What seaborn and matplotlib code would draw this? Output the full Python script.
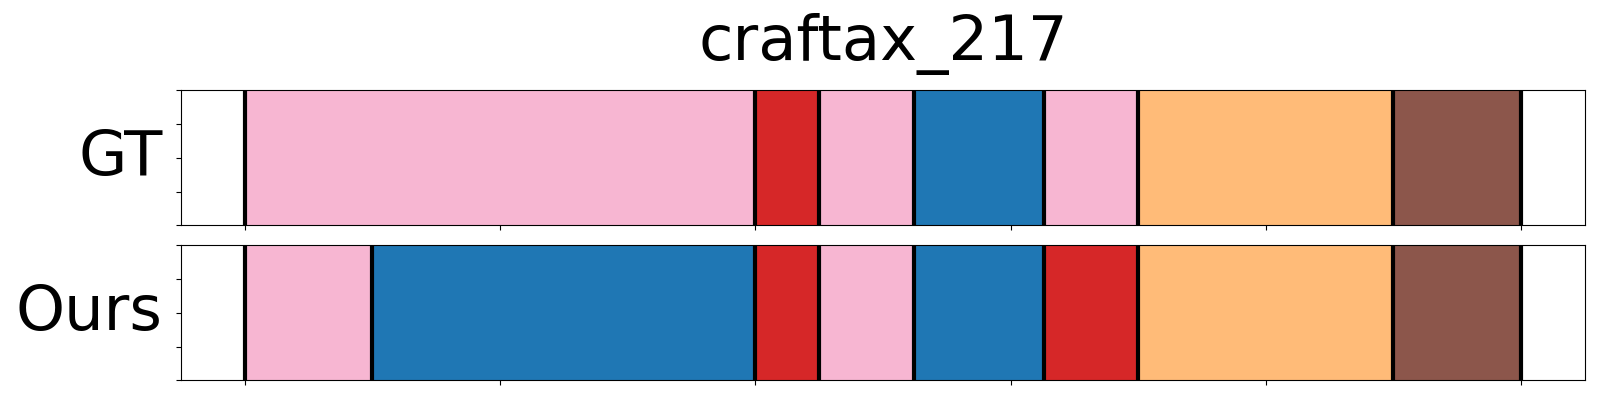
import matplotlib
matplotlib.use("Agg")
import matplotlib.pyplot as plt
import seaborn as sns

title = "craftax_217"
total_len = 500

# segments: start frame, end frame, colour index in tab20
gt_starts = [0, 200, 225, 262, 313, 350, 450]
gt_ends = [200, 225, 262, 313, 350, 450, 500]
gt_labels = [13, 6, 13, 0, 13, 3, 10]

ours_starts = [0, 50, 200, 225, 262, 313, 350, 450]
ours_ends = [50, 200, 225, 262, 313, 350, 450, 500]
ours_labels = [13, 0, 6, 13, 0, 6, 3, 10]

rows = [
    ("GT", gt_starts, gt_ends, gt_labels),
    ("Ours", ours_starts, ours_ends, ours_labels),
]

sns.set_style("ticks", {"axes.edgecolor": "black", "xtick.color": "black",
                        "ytick.color": "black", "text.color": "black",
                        "axes.labelcolor": "black"})
palette = sns.color_palette("tab20")

fig, axes = plt.subplots(2, 1, figsize=(16, 4), dpi=100, sharex=True)
fig.subplots_adjust(left=0.113, right=0.9906, top=0.774, bottom=0.049, hspace=0.148)

for ax, (name, starts, ends, labels) in zip(axes, rows):
    for s, e, lab in zip(starts, ends, labels):
        ax.axvspan(s, e, color=palette[lab])
    # black boundary lines
    for b in sorted(set(starts) | set(ends)):
        ax.axvline(b, color="black", linewidth=3)
    ax.set_ylim(0, 1)
    ax.set_xlim(-0.05 * total_len, 1.05 * total_len)
    ax.set_yticklabels([])
    ax.set_ylabel(name, fontsize=45, rotation=0, ha="right", va="center",
                  labelpad=6, color="black")

axes[-1].set_xticklabels([])
axes[0].set_title(title, fontsize=45, pad=22, color="black")

plt.savefig("out.png")
